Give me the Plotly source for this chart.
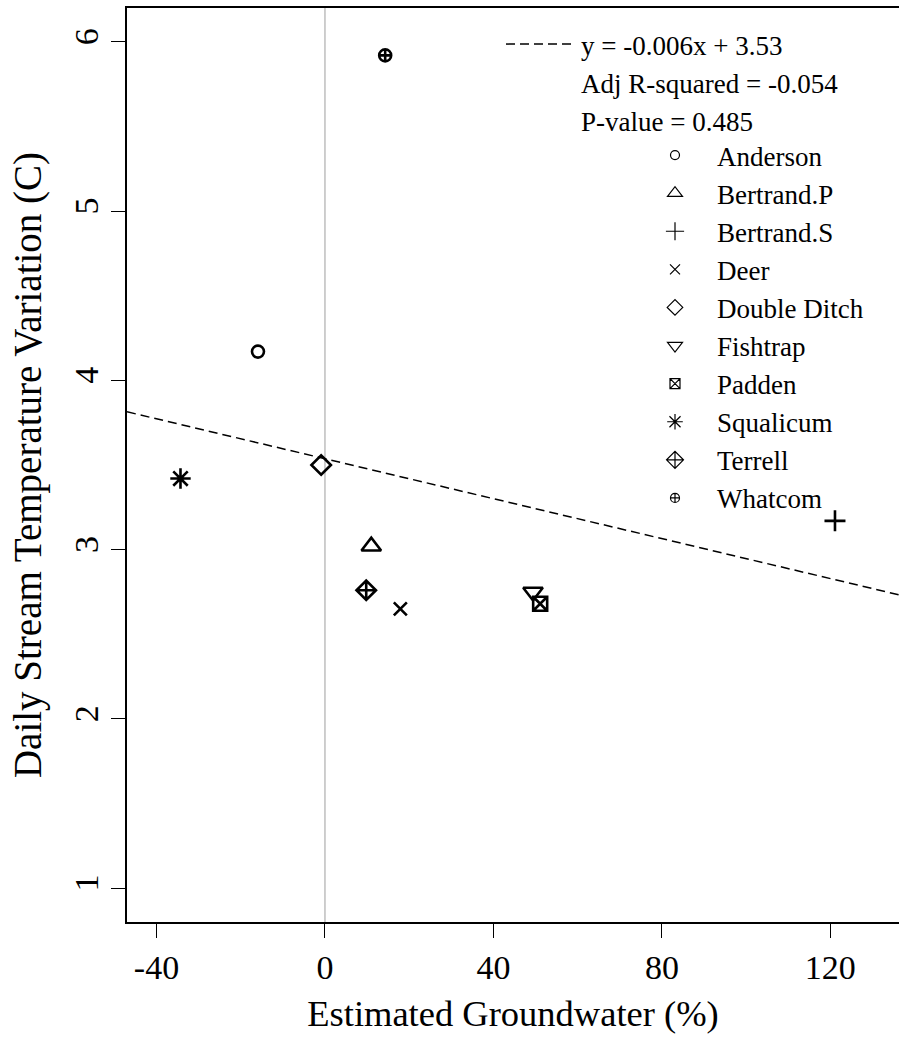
import plotly.graph_objects as go

# ---- data ----
sites = ["Anderson", "Bertrand.P", "Bertrand.S", "Deer", "Double Ditch",
         "Fishtrap", "Padden", "Squalicum", "Terrell", "Whatcom"]
groundwater = [-15.9, 11.0, 121.1, 17.9, -0.9, 49.4, 51.1, -34.3, 9.8, 14.3]
temp_var = [4.17, 3.02, 3.17, 2.65, 3.50, 2.75, 2.68, 3.42, 2.76, 5.92]
symbols = ["circle-open", "triangle-up-open", "cross-thin-open", "x-thin-open",
           "diamond-open", "triangle-down-open", "square-x-open", "asterisk-open",
           "diamond-cross-open", "circle-cross-open"]
plot_sizes = [12, 17, 15, 13, 15, 17, 14, 17, 15, 12]
legend_sizes = [9, 13, 13, 10, 12, 13, 10, 13, 13, 9]

fit_slope = -0.0059
fit_intercept = 3.537
fit_label = "y = -0.006x + 3.53"
stats_labels = ["Adj R-squared = -0.054", "P-value = 0.485"]

x_range = [-47, 136.3]
y_range = [0.8, 6.2]
x_ticks = [-40, 0, 40, 80, 120]
x_ticktext = ["-40", "0", "40", "80", "120"]
y_ticks = [1, 2, 3, 4, 5, 6]

FONT = "Liberation Serif, Times New Roman, serif"

fig = go.Figure()

# vertical reference line at x = 0
fig.add_trace(go.Scatter(x=[0, 0], y=y_range, mode="lines",
                         line=dict(color="#bebebe", width=1.5),
                         showlegend=False, hoverinfo="skip"))

# regression line
fit_x = x_range
fit_y = [fit_intercept + fit_slope * v for v in fit_x]
fig.add_trace(go.Scatter(x=fit_x, y=fit_y, mode="lines",
                         line=dict(color="black", width=1.5, dash="9px,5px"),
                         name=fit_label, legend="legend"))
for lab in stats_labels:
    fig.add_trace(go.Scatter(x=[None], y=[None], mode="lines",
                             line=dict(color="rgba(0,0,0,0)", width=0),
                             name=lab, legend="legend"))

# data points
for s, gx, ty, sym, sz in zip(sites, groundwater, temp_var, symbols, plot_sizes):
    fig.add_trace(go.Scatter(x=[gx], y=[ty], mode="markers",
                             marker=dict(symbol=sym, size=sz, color="black",
                                         line=dict(color="black", width=2.6)),
                             showlegend=False, name=s))
# legend entries (thin symbols, as in the original)
for s, sym, sz in zip(sites, symbols, legend_sizes):
    fig.add_trace(go.Scatter(x=[None], y=[None], mode="markers",
                             marker=dict(symbol=sym, size=sz, color="black",
                                         line=dict(color="black", width=1.2)),
                             name=s, legend="legend2"))

legend_common = dict(font=dict(family=FONT, size=27, color="black"),
                     bgcolor="rgba(0,0,0,0)", borderwidth=0,
                     xref="container", yref="container",
                     xanchor="left", yanchor="top", traceorder="normal")

fig.update_layout(
    width=899, height=1046,
    margin=dict(l=127, r=0, t=8, b=124, autoexpand=False),
    plot_bgcolor="white", paper_bgcolor="white",
    font=dict(family=FONT, color="black"),
    legend=dict(x=501 / 899, y=1 - 20 / 1046, itemwidth=70, **legend_common),
    legend2=dict(x=633 / 899, y=1 - 131 / 1046, itemwidth=74, **legend_common),
    xaxis=dict(range=x_range, tickvals=x_ticks, ticktext=x_ticktext,
               ticks="outside", ticklen=14,
               tickwidth=1.3, tickcolor="black", showline=True, linecolor="black",
               linewidth=1.8, mirror=True, showgrid=False, zeroline=False,
               tickfont=dict(size=34, family=FONT), automargin=False,
               title=dict(text="Estimated Groundwater (%)",
                          font=dict(size=36.5, family=FONT), standoff=16)),
    yaxis=dict(range=y_range, tickvals=y_ticks, ticks="outside", ticklen=14,
               tickwidth=1.3, tickcolor="black", showline=True, linecolor="black",
               linewidth=1.8, showgrid=False, zeroline=False, tickangle=-90,
               tickfont=dict(size=34, family=FONT), automargin=False,
               title=dict(text="Daily Stream Temperature Variation (C)",
                          font=dict(size=39, family=FONT), standoff=14)),
)

fig.write_html(
    "out.html",
    config={"displayModeBar": False},
    post_script="document.body.style.margin='0';document.body.style.overflow='hidden';",
)
